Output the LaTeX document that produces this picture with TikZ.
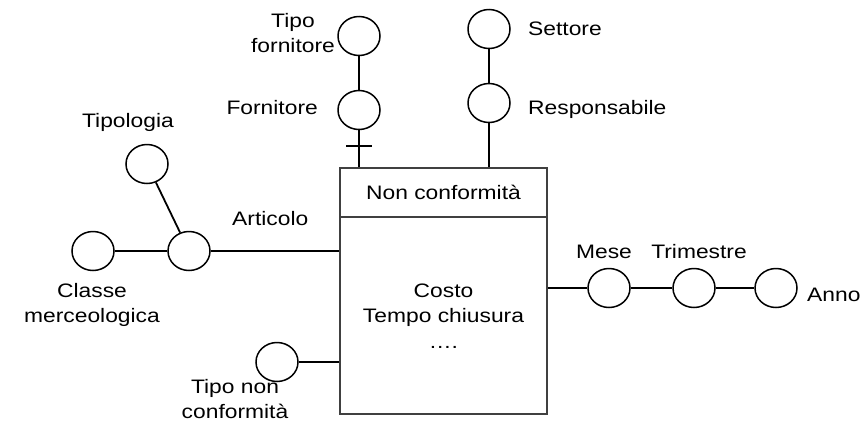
\documentclass[tikz,border=0pt]{standalone}
\usepackage{fontspec}
\usepackage{graphicx}
\setmainfont{Liberation Sans}
\usetikzlibrary{shapes.geometric}
\newcommand\hs[1]{\scalebox{1.17}[1]{#1}}
\newcommand\two[2]{\hs{\begin{tabular}[t]{@{}c@{}}#1\\#2\end{tabular}}}
\tikzset{
  attr/.style={draw=black, ellipse, line width=1.5pt, minimum width=42pt, minimum height=39pt, inner sep=0pt},
  lbl/.style={inner sep=0pt, font=\fontsize{19.5}{25.5}\selectfont},
  conn/.style={draw=black, line width=1.8pt},
  fact/.style={draw=black!75, line width=1.2pt, minimum width=207pt, minimum height=246pt, inner sep=0pt}
}
\begin{document}
\begin{tikzpicture}[x=1pt,y=-1pt]
\useasboundingbox (0,0) rectangle (867,421);
% fact box
\node[fact] (box) at (443.5,291) {};
\coordinate (dl) at (340,217);
\coordinate (dr) at (547,217);
\draw[black!75, line width=1.2pt] (dl) -- (dr);
\node[lbl, anchor=base] (hdr) at (443.5,199) {\hs{Non conformità}};
\node[lbl, anchor=base] (body) at (443.5,297) {\hs{\begin{tabular}[t]{@{}c@{}}Costo\\Tempo chiusura\\….\end{tabular}}};
% attribute circles
\node[attr] (tf) at (359,36) {};
\node[attr] (forn) at (359,110) {};
\node[attr] (sett) at (489,29) {};
\node[attr] (resp) at (489,103) {};
\node[attr] (tipol) at (147,164) {};
\node[attr] (art) at (189,251) {};
\node[attr] (cls) at (93,251) {};
\node[attr] (tnc) at (277,362) {};
\node[attr] (mese) at (609,288) {};
\node[attr] (trim) at (694,288) {};
\node[attr] (anno) at (776,288) {};
% labels
\node[lbl, anchor=base] (ltf) at (293,27) {\two{Tipo}{fornitore}};
\node[lbl, anchor=base east] (lforn) at (318,114) {\hs{Fornitore}};
\node[lbl, anchor=base west] (lsett) at (528,35) {\hs{Settore}};
\node[lbl, anchor=base west] (lresp) at (528,114) {\hs{Responsabile}};
\node[lbl, anchor=base] (ltipol) at (128,127) {\hs{Tipologia}};
\node[lbl, anchor=base west] (lart) at (232,225) {\hs{Articolo}};
\node[lbl, anchor=base] (lcls) at (92,297) {\two{Classe}{merceologica}};
\node[lbl, anchor=base] (ltnc) at (235,393) {\two{Tipo non}{conformità}};
\node[lbl, anchor=base] (lmese) at (604,258) {\hs{Mese}};
\node[lbl, anchor=base] (ltrim) at (699,258) {\hs{Trimestre}};
\node[lbl, anchor=base west] (lanno) at (807,301) {\hs{Anno}};
% connectors
\draw[conn] (tf.south) -- (forn.north);
\draw[conn] (forn.south) -- (forn.south |- box.north);
\coordinate (tk) at (359,146);
\draw[conn] ([xshift=-13pt]tk) -- ([xshift=13pt]tk);
\draw[conn] (sett.south) -- (resp.north);
\draw[conn] (resp.south) -- (resp.south |- box.north);
\draw[conn] (tipol) -- (art);
\draw[conn] (cls.east) -- (art.west);
\draw[conn] (art.east) -- (art.east -| box.west);
\draw[conn] (tnc.east) -- (tnc.east -| box.west);
\draw[conn] (mese.west -| box.east) -- (mese.west);
\draw[conn] (mese.east) -- (trim.west);
\draw[conn] (trim.east) -- (anno.west);
\end{tikzpicture}
\end{document}
